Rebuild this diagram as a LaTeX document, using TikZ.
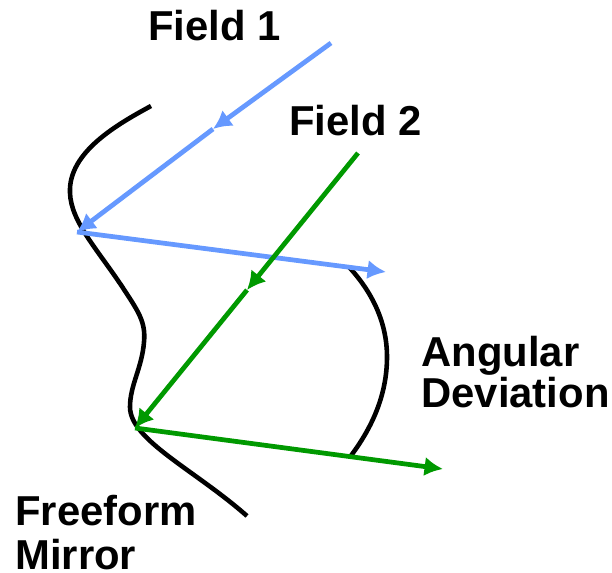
\documentclass[tikz,border=0pt]{standalone}
\usepackage{fontspec}
\setmainfont{Liberation Sans}
\usetikzlibrary{backgrounds,arrows.meta}
\definecolor{fdblue}{HTML}{6699FF}
\definecolor{fdgreen}{HTML}{009900}

\begin{document}
\begin{tikzpicture}[
    x=0.02cm, y=-0.02cm,
    show background rectangle, inner frame sep=0pt,
    background rectangle/.style={fill=white},
    >={Latex[length=10.5pt,width=11pt]},
    lbl/.style={font=\fontsize{23.8}{23.9}\selectfont\bfseries,inner sep=0pt,align=left},
    mir/.style={draw=black,line width=2.6pt,line cap=butt},
    ray/.style={line width=2.7pt}]
  \useasboundingbox (0,0) rectangle (612,573);

  % ---------------- points where the rays meet the mirror
  \coordinate (hit1) at (77,232);
  \coordinate (hit2) at (135,428);
  \coordinate (in1) at (331,43);
  \coordinate (mid1) at (213,129);
  \coordinate (in2) at (358,153);
  \coordinate (mid2) at (247,290);
  \coordinate (out1) at (386,272);
  \coordinate (out2) at (443,469);
  \coordinate (arc1) at (349,267);
  \coordinate (arc2) at (350,457);

  % ---------------- mirror and arc
  \draw[mir] (151,106) .. controls (118,124) and (68,152) .. (70,193)
     .. controls (71,222) and (98,250) .. (123,288)
     .. controls (138,311) and (146,322) .. (144,342)
     .. controls (142,368) and (130,385) .. (130,407)
     .. controls (130,440) and (195,470) .. (247,516);
  \draw[mir] (arc1) .. controls (372,292) and (387,322) .. (387,357)
     .. controls (387,395) and (372,428) .. (arc2);

  % ---------------- rays
  \draw[->,ray,fdblue] (in1) -- (mid1);
  \draw[->,ray,fdblue] (mid1) -- (hit1);
  \draw[->,ray,fdblue] (hit1) -- (out1);
  \draw[->,ray,fdgreen] (in2) -- (mid2);
  \draw[->,ray,fdgreen] (mid2) -- (hit2);
  \draw[->,ray,fdgreen] (hit2) -- (out2);

  % ---------------- labels
  \node[lbl,anchor=base west] (field1) at (148,41) {Field 1};
  \node[lbl,anchor=base west] (field2) at (289,136) {Field 2};
  \node[lbl,anchor=base west] (angdev) at (421,408) {Angular\\Deviation};
  \node[lbl,anchor=base west] (mirror) at (15,570) {Freeform\\[1.6pt]Mirror};
\end{tikzpicture}
\end{document}
